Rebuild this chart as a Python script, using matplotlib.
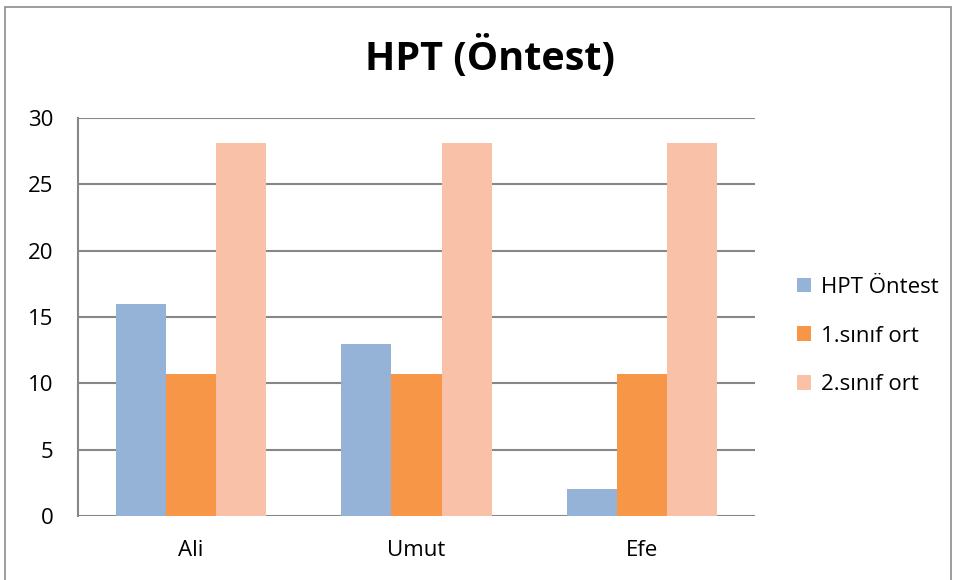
import matplotlib
matplotlib.use("Agg")
import matplotlib.pyplot as plt
import numpy as np
from matplotlib.patches import Rectangle

categories = ["Ali", "Umut", "Efe"]
series_names = ["HPT Öntest", "1.sınıf ort", "2.sınıf ort"]
hpt_ontest = [16, 13, 2]
sinif1_ort = [10.7, 10.7, 10.7]
sinif2_ort = [28.1, 28.1, 28.1]
yticks = [0, 5, 10, 15, 20, 25, 30]

colors = ["#95B3D7", "#F79646", "#F9C2A8"]
font = ["Open Sans", "DejaVu Sans"]
plt.rcParams['font.family'] = font

fig = plt.figure(figsize=(9.56, 5.8), dpi=100)
ax = fig.add_axes([78/956, 1-516/580, (755-78)/956, (516-118)/580])

x = np.arange(len(categories))
w = 0.2216
for i, (vals, name) in enumerate(zip([hpt_ontest, sinif1_ort, sinif2_ort], series_names)):
    ax.bar(x + (i-1)*w, vals, width=w, color=colors[i], label=name, zorder=3)

ax.set_xlim(-0.5, 2.5)
ax.set_ylim(0, 30)
ax.set_yticks(yticks)
ax.yaxis.grid(True, color="#878787", linewidth=1.5, zorder=0)
ax.set_axisbelow(True)
for s in ["top", "right", "bottom"]:
    ax.spines[s].set_visible(False)
ax.spines["left"].set_color("#878787")
ax.spines["left"].set_linewidth(1.5)
ax.set_xticks(x)
ax.set_xticklabels(categories, fontsize=16)
ax.tick_params(axis="x", length=0, pad=17)
ax.tick_params(axis="y", length=0, pad=17.5, labelsize=16)

fig.text(0.5125, 1-58/580, "HPT (Öntest)", ha="center", va="center",
         fontsize=28.5, fontweight="bold")

leg = ax.legend(loc="center left", bbox_to_anchor=(777/956, 1-336/580),
                bbox_transform=fig.transFigure, frameon=False, fontsize=16,
                handlelength=0.65, handleheight=0.65, handletextpad=0.45,
                labelspacing=1.25)

fig.patches.append(Rectangle((5/956, -0.05), (951-5)/956, 1-7/580+0.05,
                             transform=fig.transFigure, fill=False,
                             edgecolor="#8c8c8c", linewidth=1.2))

fig.savefig("out.png", dpi=100)
